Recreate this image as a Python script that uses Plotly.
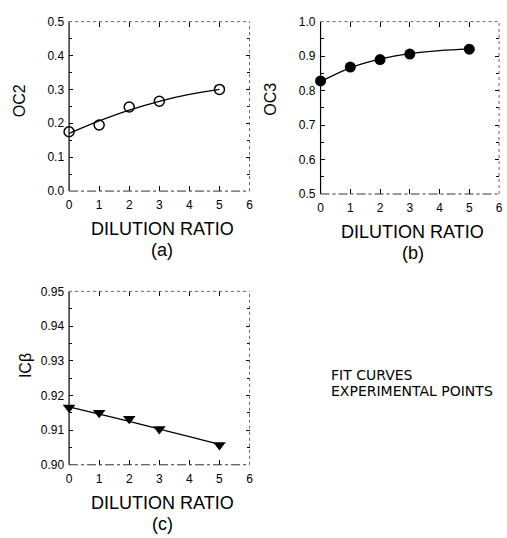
import plotly.graph_objects as go

# Dilution ratios at which measurements were taken
dilution_pts = [0, 1, 2, 3, 5]
# Fit-curve abscissae
dilution_fit = [0, 1, 2, 3, 4, 5]

# (a) OC2
oc2_points = [0.175, 0.195, 0.248, 0.265, 0.300]
oc2_fit = [0.170, 0.207, 0.239, 0.265, 0.285, 0.300]

# (b) OC3
oc3_points = [0.828, 0.868, 0.890, 0.906, 0.920]
oc3_fit = [0.826, 0.866, 0.891, 0.907, 0.916, 0.921]

# (c) ICbeta
icb_points = [0.9165, 0.9150, 0.9133, 0.9103, 0.9057]
icb_fit = [0.9167, 0.9146, 0.9125, 0.9103, 0.9081, 0.9059]

x_ticks = [0, 1, 2, 3, 4, 5, 6]
oc2_ticks = [0.0, 0.1, 0.2, 0.3, 0.4, 0.5]
oc3_ticks = [0.5, 0.6, 0.7, 0.8, 0.9, 1.0]
icb_ticks = [0.90, 0.91, 0.92, 0.93, 0.94, 0.95]

W, H = 507, 538
FONT = "Liberation Sans, Arial, sans-serif"

def px_x(p):
    return p / W

def px_y(p):
    return 1 - p / H

panels = [
    dict(ax="", xpx=(67, 250), ypx=(15, 189), yr=(0.0, 0.5), yt=oc2_ticks, fmt="{:.1f}",
         title="OC2", label="(a)", pts=oc2_points, fit=oc2_fit,
         marker=dict(symbol="circle-open", size=10, color="black", line=dict(width=1.5, color="black")),
         title_x=17, title_y=96),
    dict(ax="2", xpx=(322, 503), ypx=(15, 192), yr=(0.5, 1.0), yt=oc3_ticks, fmt="{:.1f}",
         title="OC3", label="(b)", pts=oc3_points, fit=oc3_fit,
         marker=dict(symbol="circle", size=11, color="black"),
         title_x=271, title_y=95),
    dict(ax="3", xpx=(67, 250), ypx=(292, 470), yr=(0.90, 0.95), yt=icb_ticks, fmt="{:.2f}",
         title="ICβ", label="(c)", pts=icb_points, fit=icb_fit,
         marker=dict(symbol="triangle-down", size=11, color="black"),
         title_x=23, title_y=368),
]

fig = go.Figure()
layout = dict(
    width=W, height=H,
    margin=dict(l=0, r=0, t=0, b=0),
    paper_bgcolor="white", plot_bgcolor="white",
    showlegend=False,
    font=dict(family=FONT, color="black", size=12),
)
shapes = []
annotations = []

for p in panels:
    xa = "x" + p["ax"]
    ya = "y" + p["ax"]
    xkey = "xaxis" + p["ax"]
    ykey = "yaxis" + p["ax"]
    fig.add_trace(go.Scatter(x=dilution_fit, y=p["fit"], mode="lines",
                             line=dict(color="black", width=1.3, shape="spline"),
                             xaxis=xa, yaxis=ya))
    fig.add_trace(go.Scatter(x=dilution_pts, y=p["pts"], mode="markers",
                             marker=p["marker"], xaxis=xa, yaxis=ya, cliponaxis=False))
    layout[xkey] = dict(
        domain=[px_x(p["xpx"][0]), px_x(p["xpx"][1])],
        range=[0, 6], tickvals=x_ticks, ticks="inside", ticklen=5, tickcolor="black",
        mirror="ticks", showline=False, showgrid=False, zeroline=False,
        anchor=ya, tickfont=dict(size=12, family=FONT), ticklabelstandoff=5,
    )
    layout[ykey] = dict(
        domain=[px_y(p["ypx"][1]), px_y(p["ypx"][0])],
        range=list(p["yr"]), tickvals=p["yt"], ticktext=[p["fmt"].format(v) for v in p["yt"]],
        ticks="inside", ticklen=4, tickcolor="black",
        minor=dict(ticks="inside", ticklen=3, tickcolor="black",
                   dtick=(p["yt"][1] - p["yt"][0]) / 2, tick0=p["yt"][0], showgrid=False),
        mirror="ticks", showline=False, showgrid=False, zeroline=False,
        anchor=xa, tickfont=dict(size=12, family=FONT), ticklabelstandoff=4,
    )
    # frame: solid left edge, broken bottom, dotted top and right
    dom = dict(xref=xa + " domain", yref=ya + " domain")
    shapes.append(dict(type="line", x0=0, x1=0, y0=0, y1=1, line=dict(color="black", width=1.2), **dom))
    shapes.append(dict(type="line", x0=0, x1=1, y0=0, y1=0, line=dict(color="#333", width=1, dash="dashdot"), **dom))
    shapes.append(dict(type="line", x0=0, x1=1, y0=1, y1=1, line=dict(color="#666", width=1, dash="dot"), **dom))
    shapes.append(dict(type="line", x0=1, x1=1, y0=0, y1=1, line=dict(color="#666", width=1, dash="dot"), **dom))

    cx = (p["xpx"][0] + p["xpx"][1]) / 2 + 3
    bottom = p["ypx"][1]
    annotations.append(dict(text="DILUTION RATIO", x=px_x(cx), y=px_y(bottom + 39), xref="paper", yref="paper",
                            showarrow=False, font=dict(size=18, family=FONT), xanchor="center", yanchor="middle"))
    annotations.append(dict(text=p["label"], x=px_x(cx), y=px_y(bottom + 61), xref="paper", yref="paper",
                            showarrow=False, font=dict(size=18, family=FONT), xanchor="center", yanchor="middle"))
    annotations.append(dict(text=p["title"], x=px_x(p["title_x"]), y=px_y(p["title_y"]), xref="paper", yref="paper",
                            showarrow=False, textangle=-90, font=dict(size=16, family=FONT),
                            xanchor="center", yanchor="middle"))

LEG_FONT = "DejaVu Sans, sans-serif"
annotations.append(dict(text="FIT CURVES", x=px_x(331), y=px_y(378), xref="paper", yref="paper",
                        showarrow=False, xanchor="left", yanchor="middle", font=dict(size=14, family=LEG_FONT)))
annotations.append(dict(text="EXPERIMENTAL POINTS", x=px_x(331), y=px_y(394), xref="paper", yref="paper",
                        showarrow=False, xanchor="left", yanchor="middle", font=dict(size=14, family=LEG_FONT)))

layout["shapes"] = shapes
layout["annotations"] = annotations
fig.update_layout(**layout)
fig.write_html("out.html")
